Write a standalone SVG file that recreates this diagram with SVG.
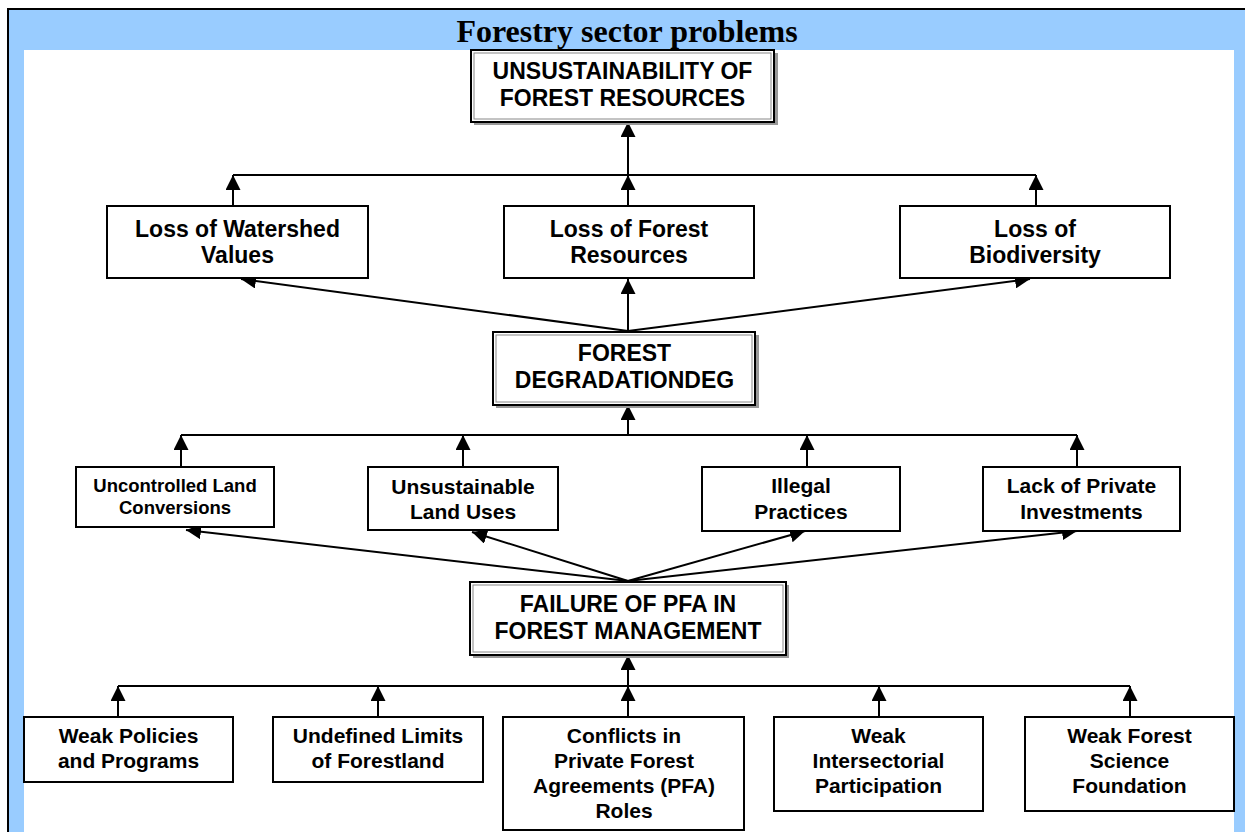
<svg xmlns="http://www.w3.org/2000/svg" width="1245" height="832" viewBox="0 0 1245 832">
<defs>
<marker id="arr" markerUnits="userSpaceOnUse" markerWidth="15" markerHeight="15" refX="15" refY="7.5" orient="auto" viewBox="0 0 15 15">
<path d="M0,0 L15,7.5 L0,15 z" fill="#000"/>
</marker>
<style>
.box{fill:#fff;stroke:#000;stroke-width:2}
.key{fill:#fff;stroke:#000;stroke-width:2}
.inner{fill:none;stroke:#888;stroke-width:1}
.shadow{fill:#999;stroke:none}
.t{font-family:"Liberation Sans",Arial,sans-serif;font-weight:bold;fill:#000;text-anchor:middle}
.big{font-size:23px}
.mid{font-size:21px}
.sm{font-size:18.5px}
.c{fill:none;stroke:#000;stroke-width:2}
.a{fill:none;stroke:#000;stroke-width:2;marker-end:url(#arr)}
</style>
</defs>
<rect x="0" y="0" width="1245" height="832" fill="#fff"/>
<rect x="9" y="10" width="1236" height="822" fill="#99CCFF"/>
<rect x="24" y="50" width="1210" height="782" fill="#fff"/>
<line x1="7" y1="9" x2="1245" y2="9" stroke="#000" stroke-width="2"/>
<line x1="8" y1="8" x2="8" y2="832" stroke="#000" stroke-width="2"/>
<text x="627" y="42" font-family="'Liberation Serif','Times New Roman',serif" font-weight="bold" font-size="32" text-anchor="middle">Forestry sector problems</text>

<g id="connectors">
<line class="c" x1="233" y1="175" x2="1036" y2="175"/>
<line class="a" x1="233" y1="206" x2="233" y2="175"/>
<line class="a" x1="628" y1="206" x2="628" y2="175"/>
<line class="a" x1="1036" y1="206" x2="1036" y2="175"/>
<line class="a" x1="628" y1="175" x2="628" y2="122"/>
<line class="a" x1="628" y1="331" x2="241" y2="279"/>
<line class="a" x1="628" y1="331" x2="628" y2="279"/>
<line class="a" x1="628" y1="331" x2="1030" y2="279"/>
<line class="c" x1="181" y1="435" x2="1077" y2="435"/>
<line class="a" x1="181" y1="467" x2="181" y2="435"/>
<line class="a" x1="463" y1="467" x2="463" y2="435"/>
<line class="a" x1="807" y1="467" x2="807" y2="435"/>
<line class="a" x1="1077" y1="467" x2="1077" y2="435"/>
<line class="a" x1="628" y1="435" x2="628" y2="405"/>
<line class="a" x1="628" y1="581" x2="186" y2="530"/>
<line class="a" x1="628" y1="581" x2="472" y2="532"/>
<line class="a" x1="628" y1="581" x2="805" y2="531"/>
<line class="a" x1="628" y1="581" x2="1077" y2="531"/>
<line class="c" x1="118" y1="686" x2="1130" y2="686"/>
<line class="a" x1="118" y1="717" x2="118" y2="686"/>
<line class="a" x1="378" y1="717" x2="378" y2="686"/>
<line class="a" x1="628" y1="717" x2="628" y2="686"/>
<line class="a" x1="879" y1="717" x2="879" y2="686"/>
<line class="a" x1="1130" y1="717" x2="1130" y2="686"/>
<line class="a" x1="628" y1="686" x2="628" y2="655"/>
</g>

<g id="n-unsustainability">
<rect class="shadow" x="474" y="53" width="304" height="72"/>
<rect class="key" x="471" y="50" width="303" height="72"/>
<rect class="inner" x="474" y="53" width="297" height="66"/>
<text class="t big" x="622.5" y="79">UNSUSTAINABILITY OF</text>
<text class="t big" x="622.5" y="106">FOREST RESOURCES</text>
</g>

<g id="n-watershed">
<rect class="box" x="107" y="206" width="261" height="72"/>
<text class="t big" x="237.5" y="237">Loss of Watershed</text>
<text class="t big" x="237.5" y="263">Values</text>
</g>
<g id="n-forest-resources">
<rect class="box" x="504" y="206" width="250" height="72"/>
<text class="t big" x="629" y="237">Loss of Forest</text>
<text class="t big" x="629" y="263">Resources</text>
</g>
<g id="n-biodiversity">
<rect class="box" x="900" y="206" width="270" height="72"/>
<text class="t big" x="1035" y="237">Loss of</text>
<text class="t big" x="1035" y="263">Biodiversity</text>
</g>

<g id="n-degradation">
<rect class="shadow" x="496" y="335" width="263" height="73"/>
<rect class="key" x="493" y="332" width="262" height="73"/>
<rect class="inner" x="496" y="335" width="256" height="67"/>
<text class="t big" x="624.5" y="361">FOREST</text>
<text class="t big" x="624.5" y="388">DEGRADATIONDEG</text>
</g>

<g id="n-uncontrolled">
<rect class="box" x="76" y="467" width="198" height="60"/>
<text class="t sm" x="175" y="492">Uncontrolled Land</text>
<text class="t sm" x="175" y="514">Conversions</text>
</g>
<g id="n-unsustainable">
<rect class="box" x="368" y="467" width="190" height="63"/>
<text class="t mid" x="463" y="494">Unsustainable</text>
<text class="t mid" x="463" y="519">Land Uses</text>
</g>
<g id="n-illegal">
<rect class="box" x="702" y="467" width="198" height="64"/>
<text class="t mid" x="801" y="493">Illegal</text>
<text class="t mid" x="801" y="519">Practices</text>
</g>
<g id="n-lack">
<rect class="box" x="983" y="467" width="197" height="64"/>
<text class="t mid" x="1081.5" y="493">Lack of Private</text>
<text class="t mid" x="1081.5" y="519">Investments</text>
</g>

<g id="n-failure">
<rect class="shadow" x="473" y="585" width="316" height="73"/>
<rect class="key" x="470" y="582" width="316" height="73"/>
<rect class="inner" x="473" y="585" width="310" height="67"/>
<text class="t big" x="628" y="612">FAILURE OF PFA IN</text>
<text class="t big" x="628" y="639">FOREST MANAGEMENT</text>
</g>

<g id="n-policies">
<rect class="box" x="24" y="717" width="209" height="65"/>
<text class="t mid" x="128.5" y="743">Weak Policies</text>
<text class="t mid" x="128.5" y="768">and Programs</text>
</g>
<g id="n-undefined">
<rect class="box" x="273" y="717" width="210" height="65"/>
<text class="t mid" x="378" y="743">Undefined Limits</text>
<text class="t mid" x="378" y="768">of Forestland</text>
</g>
<g id="n-conflicts">
<rect class="box" x="503" y="717" width="241" height="113"/>
<text class="t mid" x="624" y="743">Conflicts in</text>
<text class="t mid" x="624" y="768">Private Forest</text>
<text class="t mid" x="624" y="793">Agreements (PFA)</text>
<text class="t mid" x="624" y="818">Roles</text>
</g>
<g id="n-intersectorial">
<rect class="box" x="774" y="717" width="209" height="94"/>
<text class="t mid" x="878.5" y="743">Weak</text>
<text class="t mid" x="878.5" y="768">Intersectorial</text>
<text class="t mid" x="878.5" y="793">Participation</text>
</g>
<g id="n-science">
<rect class="box" x="1025" y="717" width="209" height="94"/>
<text class="t mid" x="1129.5" y="743">Weak Forest</text>
<text class="t mid" x="1129.5" y="768">Science</text>
<text class="t mid" x="1129.5" y="793">Foundation</text>
</g>
</svg>
